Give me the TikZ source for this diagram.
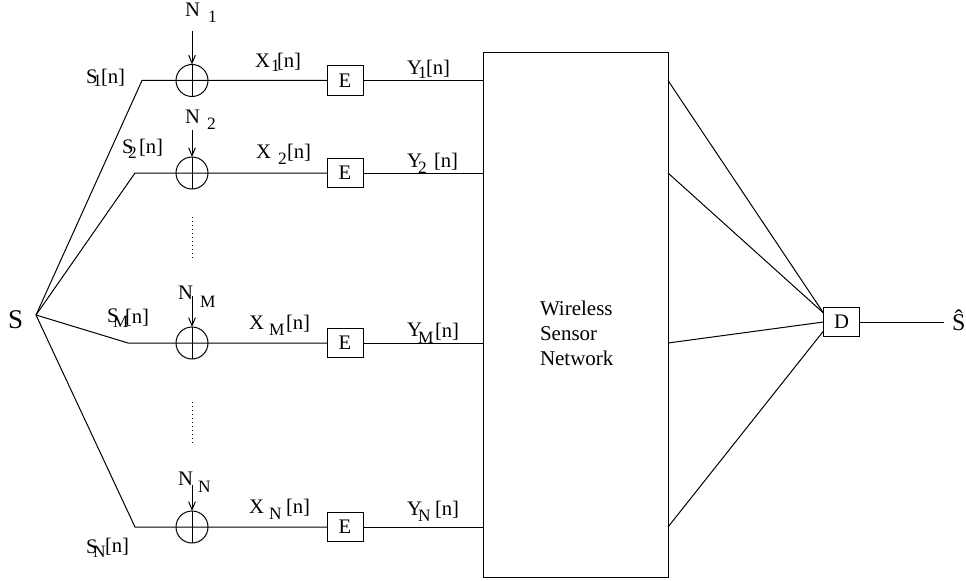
\documentclass[tikz,border=0pt]{standalone}
\usepackage{fontspec}
\setmainfont{Liberation Serif}
\usetikzlibrary{arrows.meta}
\newdimen\px \px=0.75pt
\newcommand\mainf{\fontsize{15.5}{18}\selectfont}
\newcommand\subf{\fontsize{13}{15}\selectfont}
% {main}{sub}{subdx}{subdy}{restdx}{restdy}{rest}
\newcommand\lbl[7]{\rlap{#1}\hspace*{#3\px}\raisebox{-#4\px}{\rlap{\subf #2}}\hspace*{\dimexpr #5\px - #3\px\relax}\raisebox{-#6\px}{#7}}
\begin{document}
\begin{tikzpicture}[x=0.75pt,y=-0.75pt,
  every node/.style={inner sep=0pt,outer sep=0pt},
  ln/.style={line width=0.75pt},
  lab/.style={anchor=base west,font=\mainf},
  adder/.style={circle,draw,line width=0.75pt,minimum size=24pt},
  ebox/.style={draw,line width=0.75pt,minimum width=27pt,minimum height=22pt,font=\mainf,fill=white},
  noisearrow/.style={line width=0.75pt,-{Straight Barb[length=6pt,width=5pt]}},
  dots/.style={line width=0.75pt,dash pattern=on 0.75pt off 2.25pt}]
\useasboundingbox (0,0) rectangle (966,581);

% source
\node[anchor=base west,font=\fontsize{20.25}{24}\selectfont] (S) at (8,328) {S};
\coordinate (src) at (36,315);

% branch corners
\coordinate (c1) at (142,80.5);
\coordinate (c2) at (135,173);
\coordinate (cM) at (128,343);
\coordinate (cN) at (135,527);

% adders
\node[adder] (a1) at (192,80.5) {};
\node[adder] (a2) at (192,173) {};
\node[adder] (aM) at (192,343) {};
\node[adder] (aN) at (192,527) {};

% encoders
\node[ebox] (e1) at (345,80.5) {E};
\node[ebox] (e2) at (345,173) {E};
\node[ebox] (eM) at (345,343) {E};
\node[ebox] (eN) at (345,527) {E};

% wireless sensor network
\node[draw,line width=0.75pt,minimum width=138.75pt,minimum height=393pt,anchor=north west] (wsn) at (483,53) {};
\node[anchor=base west,font=\fontsize{15.75}{19.1}\selectfont] (wsntext) at (540,315)
  {\begin{tabular}[t]{@{}l@{}}Wireless\\Sensor\\Network\end{tabular}};

% decoder
\node[draw,line width=0.75pt,minimum width=27pt,minimum height=21.75pt,font=\mainf] (D) at (841.5,322) {D};
\node[anchor=base west,font=\fontsize{18}{20}\selectfont] (shat) at (952,330) {\^S};
\coordinate (oend) at (944,322);

% signal lines
\draw[ln] (src) -- (c1) -- (e1.west);
\draw[ln] (src) -- (c2) -- (e2.west);
\draw[ln] (src) -- (cM) -- (eM.west);
\draw[ln] (src) -- (cN) -- (eN.west);
\draw[ln] (e1.east) -- (wsn.west |- e1);
\draw[ln] (e2.east) -- (wsn.west |- e2);
\draw[ln] (eM.east) -- (wsn.west |- eM);
\draw[ln] (eN.east) -- (wsn.west |- eN);

% plus signs
\foreach \a in {a1,a2,aM,aN} \draw[ln] (\a.north) -- (\a.south);

% noise arrows
\coordinate (n1) at (192,31);
\coordinate (n2) at (192,130);
\coordinate (nM) at (192,296);
\coordinate (nN) at (192,485);
\draw[noisearrow] (n1) -- (a1.north);
\draw[noisearrow] (n2) -- (a2.north);
\draw[noisearrow] (nM) -- (aM.north);
\draw[noisearrow] (nN) -- (aN.north);

% dots
\coordinate (d1a) at (192,217); \coordinate (d1b) at (192,258);
\coordinate (d2a) at (192,402); \coordinate (d2b) at (192,443);
\draw[dots] (d1a) -- (d1b);
\draw[dots] (d2a) -- (d2b);

% network to decoder
\draw[ln] (wsn.east |- e1) -- ([yshift=6.75pt]D.west);
\draw[ln] (wsn.east |- e2) -- ([yshift=6.75pt]D.west);
\draw[ln] (wsn.east |- eM) -- (D.west);
\draw[ln] (wsn.east |- eN) -- ([yshift=-6.75pt]D.west);
\draw[ln] (D.east) -- (oend);

% labels
\node[lab] (lN1) at (185,17)  {\lbl{N}{1}{23}{6}{23}{0}{}};
\node[lab] (lS1) at (86,84)   {\lbl{S}{1}{7}{3}{15}{0}{[n]}};
\node[lab] (lX1) at (255,68)  {\lbl{X}{1}{16}{4}{22}{0}{[n]}};
\node[lab] (lY1) at (407,75)  {\lbl{Y}{1}{11}{4}{19}{0}{[n]}};

\node[lab] (lN2) at (185,123) {\lbl{N}{2}{22}{7}{22}{0}{}};
\node[lab] (lS2) at (122,153) {\lbl{S}{2}{6}{5}{17}{0}{[n]}};
\node[lab] (lX2) at (256,158) {\lbl{X}{2}{22}{7}{31}{0}{[n]}};
\node[lab] (lY2) at (407,167) {\lbl{Y}{2}{11}{6}{27}{0}{[n]}};

\node[lab] (lNM) at (178,299) {\lbl{N}{M}{22}{8}{22}{0}{}};
\node[lab] (lSM) at (107,322) {\lbl{S}{M}{6}{5}{18}{1}{[n]}};
\node[lab] (lXM) at (249,329) {\lbl{X}{M}{20}{6}{37}{0}{[n]}};
\node[lab] (lYM) at (407,336) {\lbl{Y}{M}{11}{7}{28}{1}{[n]}};

\node[lab] (lNN) at (178,485) {\lbl{N}{N}{20}{7}{20}{0}{}};
\node[lab] (lSN) at (86,553)  {\lbl{S}{N}{7}{4}{19}{-1}{[n]}};
\node[lab] (lXN) at (249,513) {\lbl{X}{N}{20}{6}{37}{0}{[n]}};
\node[lab] (lYN) at (407,515) {\lbl{Y}{N}{11}{6}{28}{0}{[n]}};
\end{tikzpicture}
\end{document}
